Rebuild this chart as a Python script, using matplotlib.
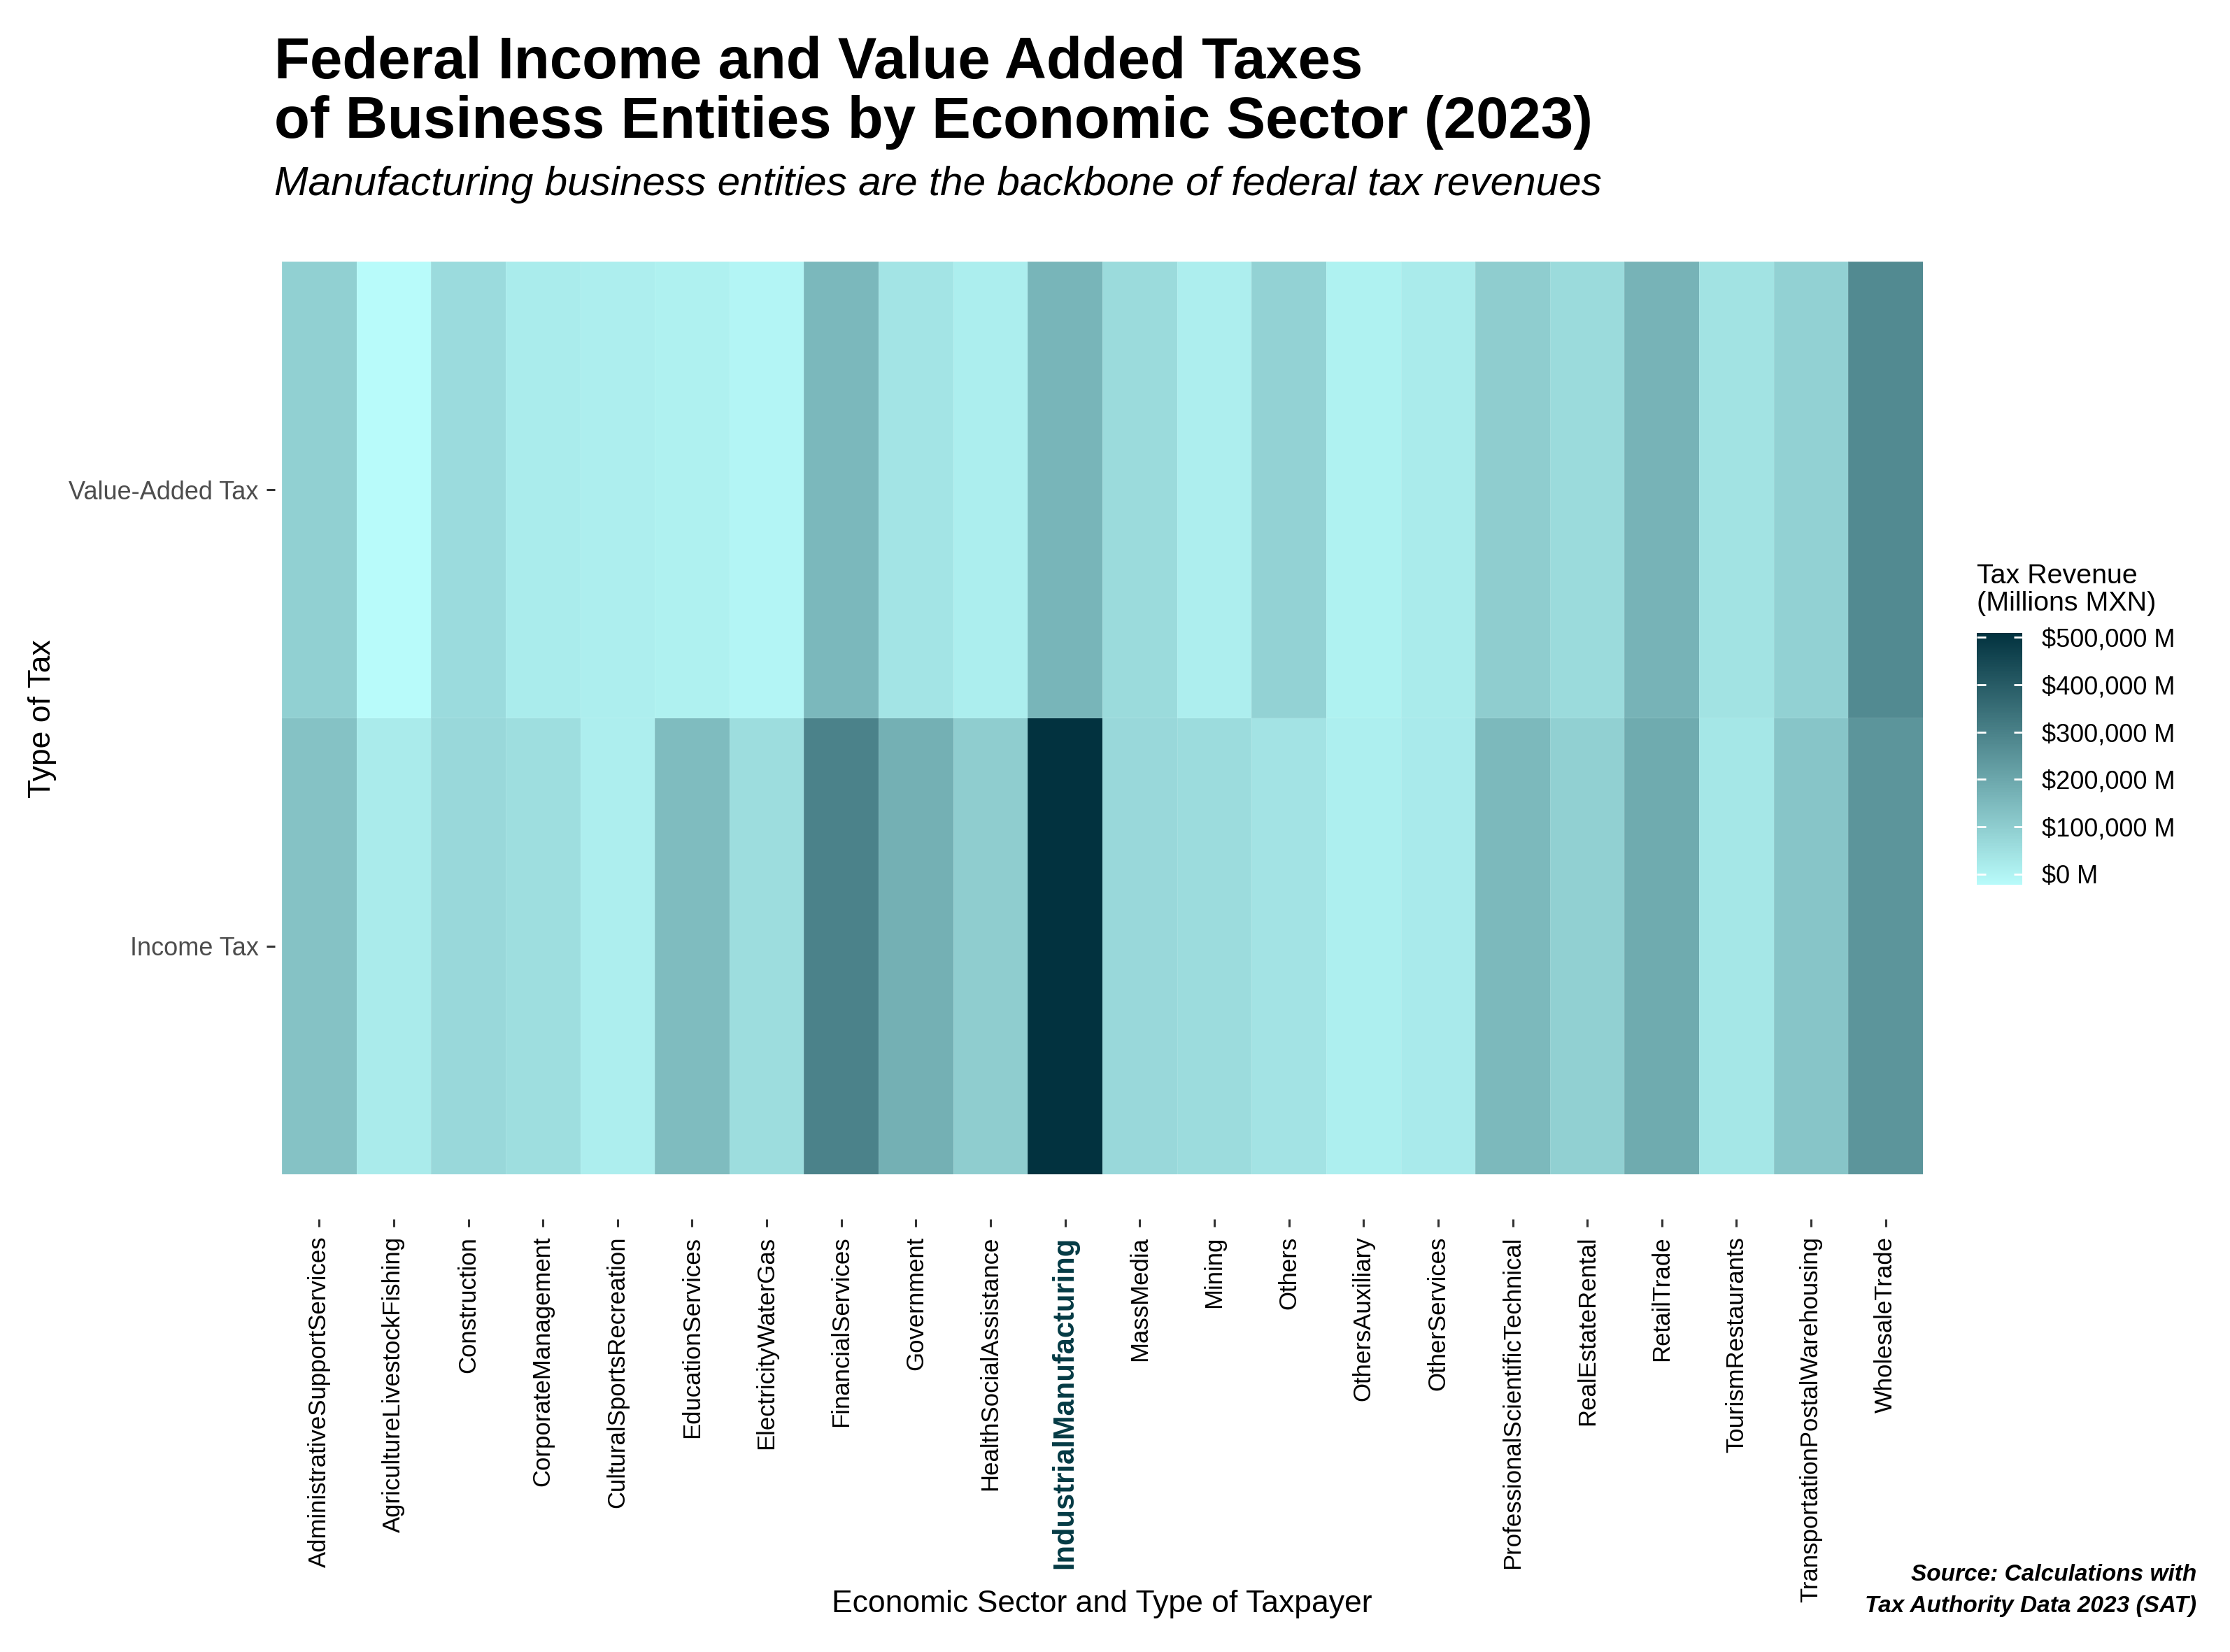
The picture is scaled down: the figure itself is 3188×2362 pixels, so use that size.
import numpy as np
import matplotlib
matplotlib.use('Agg')
from matplotlib import pyplot as plt
from matplotlib.colors import LinearSegmentedColormap

plt.rcParams['font.family'] = ['Liberation Sans', 'DejaVu Sans']

# sectors (x axis) and tax types (y axis)
sectors = ["AdministrativeSupportServices", "AgricultureLivestockFishing", "Construction",
           "CorporateManagement", "CulturalSportsRecreation", "EducationServices",
           "ElectricityWaterGas", "FinancialServices", "Government", "HealthSocialAssistance",
           "IndustrialManufacturing", "MassMedia", "Mining", "Others", "OthersAuxiliary",
           "OtherServices", "ProfessionalScientificTechnical", "RealEstateRental",
           "RetailTrade", "TourismRestaurants", "TransportationPostalWarehousing",
           "WholesaleTrade"]
tax_types = ["Income Tax", "Value-Added Tax"]

# tax revenue, millions MXN
income_tax = [128000, 19000, 70000, 54000, 11000, 144000, 56000, 295000, 176000, 99000,
              509000, 70000, 59000, 40500, 9000, 22000, 152000, 91000, 191000, 32600,
              120000, 247000]
value_added_tax = [91000, -23000, 62000, 17000, 11000, 6000, -7000, 154000, 38000, 14000,
                   162000, 64000, 11000, 86000, 3000, 19000, 99000, 64000, 168000, 43000,
                   88000, 276000]

cbar_breaks = [0, 100000, 200000, 300000, 400000, 500000]
highlight = "IndustrialManufacturing"

values = np.array([income_tax, value_added_tax])
cmap = LinearSegmentedColormap.from_list("teal", ["#B8FBFA", "#02323F"])

fig = plt.figure(figsize=(15.94, 11.81), dpi=200)
ax = fig.add_axes([0.1264, 0.2892, 0.7359, 0.5525])

mesh = ax.pcolormesh(np.arange(len(sectors) + 1) - 0.5, np.arange(len(tax_types) + 1) - 0.5,
                     values, cmap=cmap, vmin=values.min(), vmax=values.max(),
                     edgecolors=(1, 1, 1, 0.12), linewidth=0.3)
ax.set_xlim(-0.5, len(sectors) - 0.5)
ax.set_ylim(-0.5, len(tax_types) - 0.5)

for side in ['top', 'right', 'left', 'bottom']:
    ax.spines[side].set_visible(False)
ax.spines['bottom'].set_position(('outward', 23))
ax.spines['left'].set_position(('outward', 3.6))

ax.set_xticks(range(len(sectors)))
ax.set_xticklabels(sectors, rotation=90, fontsize=12.5, color='black')
ax.set_yticks(range(len(tax_types)))
ax.set_yticklabels(tax_types, fontsize=13, color='#4D4D4D')
ax.tick_params(axis='x', length=4, width=1.1, color='#333333', pad=5)
ax.tick_params(axis='y', length=4.3, width=1.1, color='#333333', pad=4)

for lab in ax.get_xticklabels():
    if lab.get_text() == highlight:
        lab.set_fontweight('bold')
        lab.set_fontsize(15)
        lab.set_color('#043A44')

# colorbar legend
cax = fig.add_axes([0.8865, 0.4644, 0.0203, 0.1524])
cb = fig.colorbar(mesh, cax=cax, ticks=cbar_breaks)
cb.outline.set_visible(False)
cb.ax.yaxis.set_ticks_position('both')
cb.ax.tick_params(direction='in', length=4.5, width=1, color='white', labelcolor='black',
                  labelsize=13, pad=10, labelright=True, labelleft=False)
cb.ax.set_yticklabels([f"${b:,.0f} M" for b in cbar_breaks])
fig.text(0.8865, 0.627, "Tax Revenue\n(Millions MXN)", fontsize=14.2, ha='left', va='bottom',
         linespacing=1.1)

# titles
fig.text(0.123, 0.9526, "Federal Income and Value Added Taxes", fontsize=30,
         fontweight='bold', ha='left', va='baseline')
fig.text(0.123, 0.9166, "of Business Entities by Economic Sector (2023)", fontsize=30,
         fontweight='bold', ha='left', va='baseline')
fig.text(0.123, 0.882, "Manufacturing business entities are the backbone of federal tax revenues",
         fontsize=21, fontstyle='italic', ha='left', va='baseline')

# axis titles
fig.text(0.019, 0.565, "Type of Tax", fontsize=16, rotation=90, ha='center', va='center')
fig.text(0.494, 0.029, "Economic Sector and Type of Taxpayer", fontsize=16, ha='center',
         va='center')

# caption
fig.text(0.985, 0.021, "Source: Calculations with\nTax Authority Data 2023 (SAT)", fontsize=12,
         fontweight='bold', fontstyle='italic', ha='right', va='bottom', linespacing=1.6,
         multialignment='right')

fig.savefig("out.png", dpi=200)
